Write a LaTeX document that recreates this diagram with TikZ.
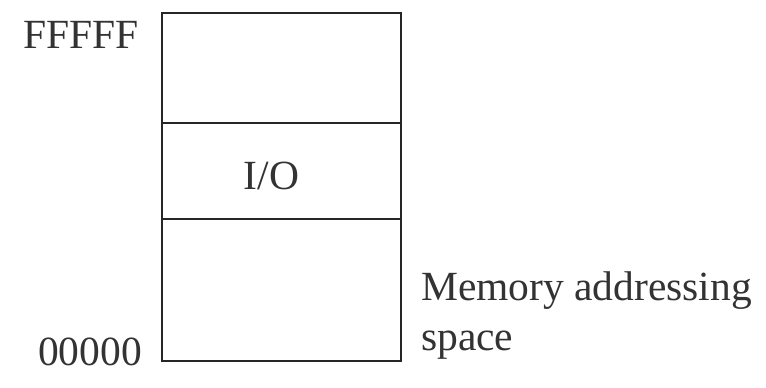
\documentclass[tikz,border=0pt]{standalone}
\usepackage{fontspec}
\setmainfont{Liberation Serif}
\begin{document}
\begin{tikzpicture}[x=1pt,y=-1pt,
  box/.style={draw=black!85,line width=1.8pt},
  lbl/.style={inner sep=0pt,font=\fontsize{41.5}{48}\selectfont,text=black!80}]
\useasboundingbox (0,0) rectangle (766,388);
\coordinate (tl) at (162,13);
\coordinate (br) at (401,361);
\coordinate (d1l) at (162,123);
\coordinate (d1r) at (401,123);
\coordinate (d2l) at (162,219);
\coordinate (d2r) at (401,219);
\draw[box] (tl) rectangle (br);
\draw[box] (d1l) -- (d1r);
\draw[box] (d2l) -- (d2r);
\node[lbl,anchor=base west] (top) at (23,48) {FFFFF};
\node[lbl,anchor=base west] (bot) at (38,365) {00000};
\node[lbl,anchor=base] (io) at (271.5,189) {I/O};
\node[lbl,anchor=base west] (mem1) at (421,300) {Memory addressing};
\node[lbl,anchor=base west] (mem2) at (421,350) {space};
\end{tikzpicture}
\end{document}
